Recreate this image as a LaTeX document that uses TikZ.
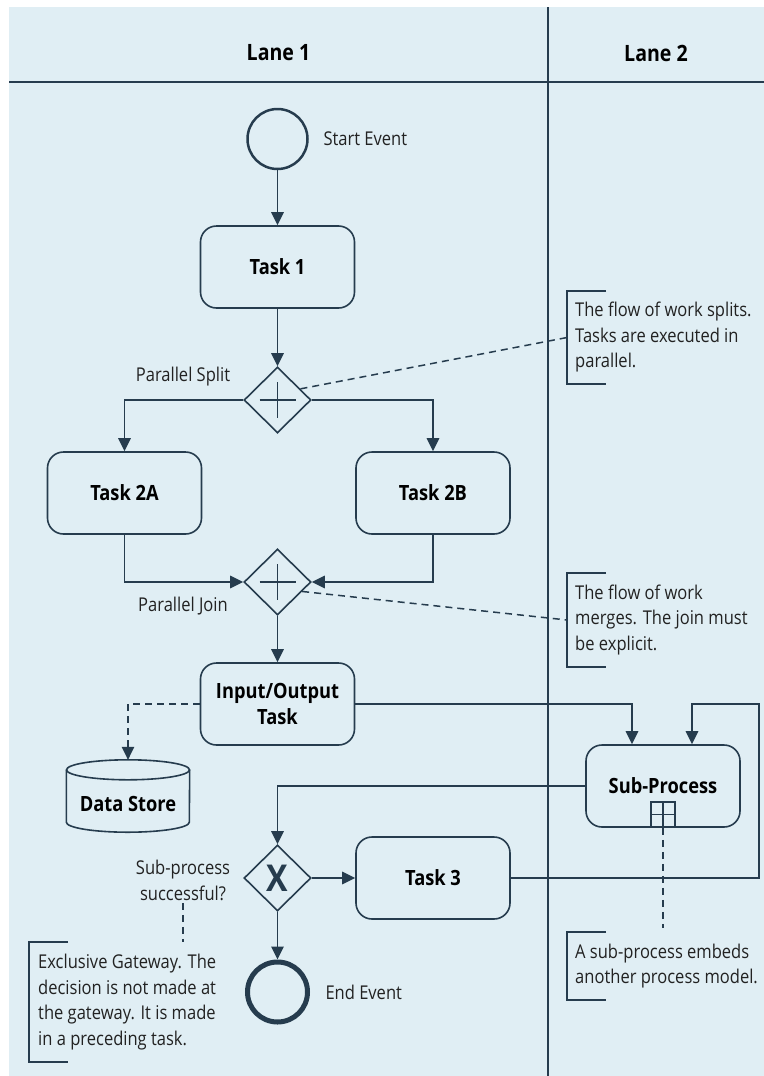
\documentclass[tikz,border=0pt]{standalone}
\usepackage{fontspec}
\setmainfont{Open Sans}[FakeStretch=0.87]
\usetikzlibrary{arrows.meta,shapes.geometric,calc}
\definecolor{bgc}{HTML}{E0EEF4}
\definecolor{linec}{HTML}{263C4E}
\definecolor{txtc}{HTML}{222222}
\begin{document}
\begin{tikzpicture}[x=1bp,y=-1bp,
  every node/.style={font=\fontsize{19bp}{25.5bp}\selectfont, text=txtc},
  boldtext/.style={font=\fontsize{21bp}{26bp}\selectfont\bfseries, text=black},
  lanehead/.style={font=\fontsize{22.5bp}{26bp}\selectfont\bfseries, text=black},
  taskbox/.style={boldtext, draw=linec, line width=1.6bp, rounded corners=16bp,
    minimum width=154bp, minimum height=82bp, align=center, inner sep=2bp},
  gate/.style={diamond, draw=linec, line width=1.6bp, minimum width=67bp,
    minimum height=66bp, inner sep=0pt},
  flow/.style={draw=linec, line width=1.6bp, -{Triangle[length=13bp,width=12.5bp]}},
  assoc/.style={draw=linec, line width=1.5bp, dash pattern=on 7bp off 5bp},
  annot/.style={anchor=west, align=left, inner xsep=8bp, inner ysep=0pt},
  bracket/.style={draw=linec, line width=1.6bp},
  lanerule/.style={draw=linec, line width=1.6bp}
]
\useasboundingbox (0,0) rectangle (764,1076);
\fill[bgc] (9,7) rectangle (764,1076);
\draw[lanerule] (9,82) -- (764,82);
\draw[lanerule] (548,7) -- (548,1076);
\node[lanehead] (lane1) at (278.5,53) {Lane 1};
\node[lanehead] (lane2) at (656,53) {Lane 2};

% events
\node[circle, draw=linec, line width=2.5bp, minimum size=60bp, inner sep=0pt] (start) at (277.5,139) {};
\node[anchor=west] (startlbl) at (320,139) {Start Event};
\node[circle, draw=linec, line width=5bp, minimum size=60bp, inner sep=0pt] (end) at (277.5,992) {};
\node[anchor=west] (endlbl) at (322,992) {End Event};

% tasks
\node[taskbox] (task1) at (277.5,267) {Task 1};
\node[taskbox] (task2a) at (124.5,493) {Task 2A};
\node[taskbox] (task2b) at (433,493) {Task 2B};
\node[taskbox] (io) at (277.5,704) {Input/Output\\Task};
\node[taskbox] (sub) at (663,786) {Sub-Process};
\node[taskbox] (task3) at (433,878) {Task 3};
\node[draw=linec, line width=1.6bp, minimum width=24bp, minimum height=25bp,
  inner sep=0pt, anchor=south] (submark) at (sub.south) {};
\draw[linec, line width=1.6bp] (submark.north) -- (submark.south)
  (submark.west) -- (submark.east);

% gateways
\node[gate] (split) at (277.5,400) {};
\draw[linec, line width=1.6bp] ($(split.center)+(-18,0)$) -- ($(split.center)+(18,0)$)
  ($(split.center)+(0,-18)$) -- ($(split.center)+(0,18)$);
\node (splitlbl) at (183,377) {Parallel Split};
\node[gate] (join) at (277.5,582) {};
\draw[linec, line width=1.6bp] ($(join.center)+(-18,0)$) -- ($(join.center)+(18,0)$)
  ($(join.center)+(0,-18)$) -- ($(join.center)+(0,18)$);
\node (joinlbl) at (183,606) {Parallel Join};
\node[gate, font=\fontsize{37bp}{37bp}\selectfont\bfseries, text=linec] (xor) at (277.5,878) {X};
\node[align=center, inner sep=2bp] (xorlbl) at (183,880.5) {Sub-process\\successful?};

% data store
\node[minimum width=123bp, minimum height=72bp, inner sep=0pt,
  label={[boldtext, yshift=-8bp]center:Data Store}] (ds) at (128,796) {};
\draw[linec, line width=1.6bp] ($(ds.north)+(0,10)$) ellipse [x radius=61.5bp, y radius=10bp];
\draw[linec, line width=1.6bp] ($(ds.north west)+(0,10)$) -- ($(ds.south west)+(0,-10)$)
  arc[start angle=180, end angle=360, x radius=61.5bp, y radius=10bp]
  -- ($(ds.north east)+(0,10)$);

% annotations
\node[annot, minimum height=93bp] (an1) at (567,337.5) {The flow of work splits.\\Tasks are executed in\\parallel.};
\node[annot, minimum height=94bp] (an2) at (567,620) {The flow of work\\merges. The join must\\be explicit.};
\node[annot, minimum height=68bp] (an3) at (567,966) {A sub-process embeds\\another process model.};
\node[annot, minimum height=120bp, inner xsep=9bp] (an4) at (29,1002) {Exclusive Gateway. The\\decision is not made at\\the gateway. It is made\\in a preceding task.};
\foreach \a in {an1,an2,an3,an4}{
  \draw[bracket] ([xshift=39bp]\a.north west) -- (\a.north west) -- (\a.south west) -- ([xshift=39bp]\a.south west);
}

% associations
\draw[assoc] ($(split.east)!0.33!(split.north)$) -- (an1.west);
\draw[assoc] ($(join.east)!0.28!(join.south)$) -- (an2.west);
\draw[assoc] (submark.south) -- ([yshift=4bp]submark.south |- an3.north);
\draw[assoc] (xorlbl.south) -- (xorlbl.south |- an4.north);

% sequence flows
\draw[flow] (start) -- (task1);
\draw[flow] (task1) -- (split);
\draw[flow] (split.west) -| (task2a.north);
\draw[flow] (split.east) -| (task2b.north);
\draw[flow] (task2a.south) |- (join.west);
\draw[flow] (task2b.south) |- (join.east);
\draw[flow] (join) -- (io);
\draw[flow, assoc] (io.west) -| (ds.north);
\draw[flow] (io.east) -| ([xshift=-31bp]sub.north);
\coordinate (loopc) at (759,704);
\draw[flow] (task3.east) -| (loopc) -| ([xshift=29bp]sub.north);
\draw[flow] (sub.west) -| (xor.north);
\draw[flow] (xor) -- (task3);
\draw[flow] (xor) -- (end);
\end{tikzpicture}
\end{document}
